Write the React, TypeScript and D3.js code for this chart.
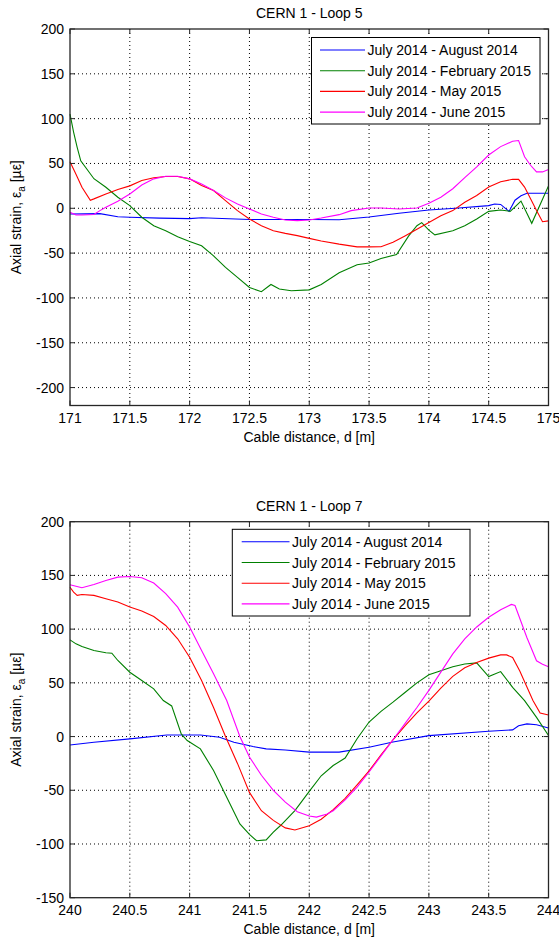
import React from "react";
import * as d3 from "d3";

// ---------- DATA ----------
const seriesNames = [
  "July 2014 - August 2014",
  "July 2014 - February 2015",
  "July 2014 - May 2015",
  "July 2014 - June 2015",
];
const seriesColors = ["#0000ff", "#008000", "#ff0000", "#ff00ff"];

// Loop 5: [cable distance (m), axial strain (µε)]
const loop5Aug: [number, number][] = [
  [171, -6.3], [171.25, -6], [171.4, -9.5], [171.5, -10], [171.75, -11], [172, -11.5], [172.1, -10.5],
  [172.5, -12.5], [173, -12.5], [173.25, -12.8], [173.5, -9.8], [173.75, -5.6], [174, -1.9], [174.25, 0.4],
  [174.5, 3], [174.55, 4.8], [174.6, 4.3], [174.67, -3.5], [174.72, 9], [174.77, 14], [174.82, 16.7], [175, 16.7],
];
const loop5Feb: [number, number][] = [
  [171, 105], [171.03, 85], [171.06, 68], [171.09, 53], [171.2, 33], [171.3, 23.5], [171.4, 12.3], [171.5, 3],
  [171.6, -10], [171.7, -19.4], [171.8, -25], [171.9, -31.7], [172, -37], [172.1, -41.8], [172.2, -53],
  [172.3, -66], [172.4, -77], [172.5, -88.4], [172.6, -93], [172.68, -85], [172.75, -90], [172.85, -92],
  [173, -91], [173.1, -85], [173.25, -72], [173.4, -63], [173.5, -61], [173.6, -56], [173.73, -51.5],
  [173.83, -31], [173.9, -19.5], [173.94, -16], [174, -24.4], [174.05, -29.7], [174.2, -25], [174.3, -19.5],
  [174.4, -12], [174.5, -3.4], [174.6, -1.9], [174.68, -3.4], [174.77, 8], [174.86, -16.8], [174.95, 10], [175, 25],
];
const loop5May: [number, number][] = [
  [171, 52], [171.05, 38], [171.1, 23.5], [171.17, 9], [171.2, 10.5], [171.3, 16], [171.4, 21], [171.5, 25],
  [171.6, 31], [171.7, 34], [171.8, 35.4], [171.9, 35.4], [172, 32.8], [172.1, 25.4], [172.2, 19.8],
  [172.3, 8.6], [172.4, -2.6], [172.5, -12], [172.6, -19.4], [172.7, -25], [172.8, -28], [172.9, -30.5],
  [173, -33.6], [173.1, -36.5], [173.25, -40], [173.4, -43], [173.5, -43], [173.6, -42.9], [173.7, -38],
  [173.8, -30.8], [173.9, -23.3], [174, -15.8], [174.1, -8.3], [174.2, -2.6], [174.3, 6.8], [174.4, 14.3],
  [174.5, 23.7], [174.6, 29.7], [174.7, 32.3], [174.75, 32.3], [174.8, 23.7], [174.9, -2.6], [174.95, -15], [175, -14],
];
const loop5Jun: [number, number][] = [
  [171, -4.5], [171.05, -7.5], [171.1, -7.5], [171.2, -7], [171.25, -2.6], [171.3, 1.1], [171.4, 7.8],
  [171.5, 16], [171.6, 26], [171.7, 32.8], [171.8, 35.8], [171.9, 35.8], [172, 32.8], [172.1, 27.2],
  [172.2, 19.8], [172.3, 11.6], [172.4, 4.9], [172.5, -0.7], [172.6, -6.3], [172.7, -10], [172.8, -13],
  [172.9, -13.8], [173, -13], [173.1, -10.9], [173.25, -7.1], [173.35, -2.6], [173.5, 0.4], [173.6, 0.4],
  [173.75, -0.8], [173.9, 0.4], [174, 5.6], [174.1, 12.4], [174.2, 21.8], [174.3, 34.2], [174.4, 46.2],
  [174.5, 59.4], [174.6, 68.8], [174.7, 74.8], [174.75, 75.6], [174.8, 57.5], [174.85, 48], [174.9, 40.6],
  [174.95, 40.6], [175, 43.2],
];

// Loop 7
const loop7Aug: [number, number][] = [
  [240, -7.8], [240.2, -5.3], [240.5, -2.2], [240.81, 1.5], [241.09, 1.5], [241.25, -0.6], [241.37, -5.3],
  [241.53, -9.3], [241.64, -11.5], [241.8, -12.5], [242, -14.5], [242.25, -14.5], [242.5, -10],
  [242.7, -5], [243, 0.9], [243.5, 5], [243.7, 6.2], [243.75, 10], [243.82, 11.8], [243.9, 11], [244, 8],
];
const loop7Feb: [number, number][] = [
  [240, 90], [240.05, 86.3], [240.1, 83.9], [240.2, 80.1], [240.3, 78], [240.35, 77.6], [240.4, 70.8],
  [240.5, 59.9], [240.6, 52.2], [240.7, 44.4], [240.78, 33.5], [240.85, 28.5], [240.93, 2.5], [240.98, -3.7],
  [241.09, -11.5], [241.2, -31.6], [241.31, -56.5], [241.42, -81.3], [241.5, -91], [241.56, -97],
  [241.64, -96.2], [241.7, -89], [241.76, -82.8], [241.88, -68.9], [242, -51], [242.1, -36.5], [242.2, -27],
  [242.3, -20], [242.4, -2], [242.5, 13.5], [242.6, 23.5], [242.7, 32], [242.8, 41], [242.9, 50],
  [243, 57.5], [243.1, 61.2], [243.2, 65], [243.3, 67.5], [243.4, 68.6], [243.5, 55.8], [243.6, 60.5],
  [243.7, 45.8], [243.8, 33.4], [243.9, 17.9], [244, 1],
];
const loop7May: [number, number][] = [
  [240, 139], [240.03, 134.5], [240.06, 131.5], [240.1, 132.3], [240.2, 131.4], [240.3, 128.3],
  [240.4, 125.2], [240.5, 120.5], [240.6, 116.8], [240.7, 111.8], [240.8, 103.4], [240.9, 91], [241, 73.9],
  [241.1, 52.2], [241.2, 27], [241.3, 0], [241.4, -25], [241.5, -52], [241.6, -69], [241.7, -78],
  [241.8, -85], [241.88, -87], [242, -83], [242.1, -77], [242.2, -68], [242.3, -57.5], [242.4, -45],
  [242.5, -32], [242.6, -17], [242.7, -3], [242.8, 10], [242.9, 22], [243, 33], [243.1, 45], [243.2, 56],
  [243.3, 64], [243.4, 69], [243.5, 73], [243.6, 76], [243.65, 76], [243.7, 73.6], [243.76, 61],
  [243.87, 33.5], [243.93, 22], [244, 20],
];
const loop7Jun: [number, number][] = [
  [240, 141.3], [240.1, 138.5], [240.2, 141.6], [240.3, 145.3], [240.4, 148.4], [240.5, 149], [240.6, 147.8],
  [240.7, 142.9], [240.8, 133], [240.9, 120.5], [241, 101.9], [241.1, 80], [241.2, 58.4], [241.31, 33.5],
  [241.42, 0], [241.5, -19], [241.6, -36], [241.7, -50], [241.8, -61], [241.9, -70], [242, -74],
  [242.06, -75], [242.15, -72], [242.2, -69], [242.3, -59], [242.4, -47], [242.5, -33], [242.6, -18],
  [242.7, -3], [242.8, 12], [242.9, 27], [243, 43], [243.1, 60], [243.2, 77], [243.3, 91], [243.4, 102],
  [243.5, 111], [243.6, 118], [243.69, 123], [243.72, 122], [243.82, 92], [243.9, 70.5], [243.95, 67.4],
  [244, 65],
];

const loop5XTicks = [171, 171.5, 172, 172.5, 173, 173.5, 174, 174.5, 175];
const loop5YTicks = [-200, -150, -100, -50, 0, 50, 100, 150, 200];
const loop7XTicks = [240, 240.5, 241, 241.5, 242, 242.5, 243, 243.5, 244];
const loop7YTicks = [-150, -100, -50, 0, 50, 100, 150, 200];

// ---------- CHART ----------
const FONT = "'Liberation Sans', Arial, Helvetica, sans-serif";
const FS = 14;

type ChartProps = {
  title: string;
  left: number; top: number; width: number; height: number;
  xDomain: [number, number]; yDomain: [number, number];
  xTicks: number[]; yTicks: number[];
  series: [number, number][][];
  legend: { x: number; y: number; w: number; h: number; sampleX0: number; sampleX1: number };
};

function Chart(p: ChartProps) {
  const x = d3.scaleLinear().domain(p.xDomain).range([p.left, p.left + p.width]);
  const y = d3.scaleLinear().domain(p.yDomain).range([p.top + p.height, p.top]);
  const line = d3.line<[number, number]>().x((d) => x(d[0])).y((d) => y(d[1]));
  const L = p.left, R = p.left + p.width, T = p.top, B = p.top + p.height;
  const tk = 5;
  const rowH = 20.7;
  return (
    <g fontFamily={FONT} fontSize={FS} fill="#000">
      <rect x={L} y={T} width={p.width} height={p.height} fill="#fff" />
      {/* grid */}
      {p.xTicks.filter((v) => x(v) > L + 1 && x(v) < R - 1).map((v) => (
        <line key={"gx" + v} x1={x(v)} x2={x(v)} y1={T} y2={B} stroke="#000" strokeWidth={1} strokeDasharray="1,3" />
      ))}
      {p.yTicks.filter((v) => y(v) > T + 1 && y(v) < B - 1).map((v) => (
        <line key={"gy" + v} x1={L} x2={R} y1={y(v)} y2={y(v)} stroke="#000" strokeWidth={1} strokeDasharray="1,3" />
      ))}
      {/* series */}
      {p.series.map((s, i) => (
        <path key={"s" + i} d={line(s) || ""} fill="none" stroke={seriesColors[i]} strokeWidth={1.1} />
      ))}
      {/* ticks */}
      {p.xTicks.map((v) => (
        <g key={"tx" + v}>
          <line x1={x(v)} x2={x(v)} y1={B} y2={B - tk} stroke="#262626" />
          <line x1={x(v)} x2={x(v)} y1={T} y2={T + tk} stroke="#262626" />
          <text x={x(v)} y={B + 17.5} textAnchor="middle">{String(v)}</text>
        </g>
      ))}
      {p.yTicks.map((v) => (
        <g key={"ty" + v}>
          <line x1={L} x2={L + tk} y1={y(v)} y2={y(v)} stroke="#262626" />
          <line x1={R} x2={R - tk} y1={y(v)} y2={y(v)} stroke="#262626" />
          <text x={L - 6} y={y(v) + 5} textAnchor="end">{String(v)}</text>
        </g>
      ))}
      <rect x={L} y={T} width={p.width} height={p.height} fill="none" stroke="#262626" strokeWidth={1.3} />
      {/* title & labels */}
      <text x={(L + R) / 2} y={T - 11} textAnchor="middle">{p.title}</text>
      <text x={(L + R) / 2} y={B + 36} textAnchor="middle">Cable distance, d [m]</text>
      <text transform={`translate(21,${(T + B) / 2}) rotate(-90)`} textAnchor="middle">
        Axial strain, ε<tspan dy={4} fontSize={10}>a</tspan><tspan dy={-4}> [µε]</tspan>
      </text>
      {/* legend */}
      <rect x={p.legend.x} y={p.legend.y} width={p.legend.w} height={p.legend.h} fill="#fff" stroke="#000" strokeWidth={1} />
      {seriesNames.map((n, i) => {
        const cy = p.legend.y + 12.5 + i * rowH;
        return (
          <g key={"lg" + i}>
            <line x1={p.legend.sampleX0} x2={p.legend.sampleX1} y1={cy} y2={cy} stroke={seriesColors[i]} strokeWidth={1.1} />
            <text x={p.legend.sampleX1 + 2.5} y={cy + 5}>{n}</text>
          </g>
        );
      })}
    </g>
  );
}

export default function App() {
  return (
    <svg width={559} height={940} style={{ position: "absolute", left: 0, top: 0, background: "#fff" }}>
      <rect x={0} y={0} width={559} height={940} fill="#fff" />
      <Chart
        title="CERN 1 - Loop 5"
        left={70} top={29} width={478.5} height={376.5}
        xDomain={[171, 175]} yDomain={[-220, 200]}
        xTicks={loop5XTicks} yTicks={loop5YTicks}
        series={[loop5Aug, loop5Feb, loop5May, loop5Jun]}
        legend={{ x: 311.5, y: 37.5, w: 228.5, h: 86.5, sampleX0: 320, sampleX1: 365 }}
      />
      <Chart
        title="CERN 1 - Loop 7"
        left={70} top={521.7} width={478.5} height={376}
        xDomain={[240, 244]} yDomain={[-150, 200]}
        xTicks={loop7XTicks} yTicks={loop7YTicks}
        series={[loop7Aug, loop7Feb, loop7May, loop7Jun]}
        legend={{ x: 232.3, y: 529.3, w: 237.7, h: 86.7, sampleX0: 241.7, sampleX1: 289.5 }}
      />
    </svg>
  );
}
